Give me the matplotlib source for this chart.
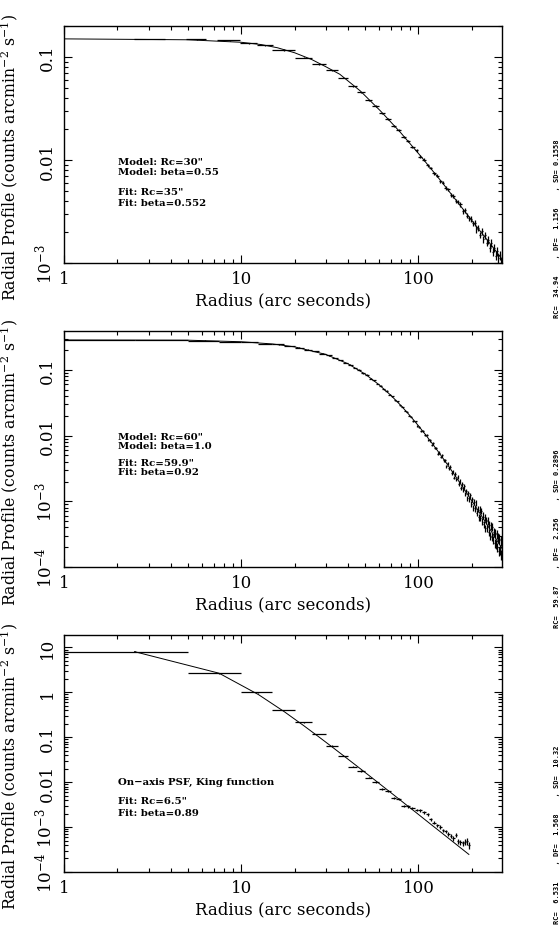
import matplotlib
matplotlib.use("Agg")
import matplotlib.pyplot as plt

plt.rcParams["font.family"] = "DejaVu Serif"
plt.rcParams["mathtext.fontset"] = "dejavuserif"

# ---- panel 1: model Rc=30", beta=0.55 ----
p1_r = [3.1, 5.6, 8.6, 11.1, 13.7,
        17.5, 22.5, 27.5, 32.5, 37.5, 42.5, 47.5, 52.5, 57.5, 62.5,
        67.5, 72.5, 77.5, 82.5, 87.5, 92.5, 97.5, 102.5, 107.5, 112.5,
        117.5, 122.5, 127.5, 132.5, 137.5, 142.5, 147.5, 152.5, 157.5, 162.5,
        167.5, 172.5, 177.5, 182.5, 187.5, 192.5, 197.5, 202.5, 207.5, 212.5,
        217.5, 222.5, 227.5, 232.5, 237.5, 242.5, 247.5, 252.5, 257.5, 262.5,
        267.5, 272.5, 277.5, 282.5, 287.5, 292.5, 297.5]
p1_hw = [0.62, 0.7, 1.3, 1.2, 1.4] + [2.5] * 57
p1_sb = [0.150, 0.149, 0.145, 0.136, 0.130,
         0.117, 0.0985, 0.0852, 0.0742, 0.0628, 0.0521, 0.0453, 0.0379, 0.0336, 0.0283,
         0.0252, 0.0216, 0.0195, 0.0168, 0.0154, 0.0134, 0.0124, 0.0108, 0.0101, 0.00892,
         0.00838, 0.00745, 0.00705, 0.00621, 0.00602, 0.00532, 0.00518, 0.00455, 0.00451, 0.00398,
         0.00392, 0.00372, 0.00318, 0.00327, 0.00289, 0.00271, 0.00268, 0.00242, 0.00245, 0.00212,
         0.00221, 0.00188, 0.00204, 0.00171, 0.00185, 0.00158, 0.00168, 0.00141, 0.00158, 0.00129,
         0.00141, 0.00118, 0.00131, 0.00112, 0.00119, 0.00101, 0.00110]
p1_relerr = [0.008, 0.008, 0.008, 0.008, 0.008,
             0.012, 0.012, 0.012, 0.013, 0.013, 0.014, 0.015, 0.018, 0.019, 0.02,
             0.021, 0.022, 0.023, 0.024, 0.025, 0.026, 0.027, 0.028, 0.03, 0.031,
             0.032, 0.034, 0.035, 0.037, 0.038, 0.04, 0.042, 0.044, 0.046, 0.048,
             0.05, 0.052, 0.054, 0.056, 0.058, 0.06, 0.062, 0.064, 0.066, 0.068,
             0.07, 0.072, 0.075, 0.078, 0.08, 0.082, 0.085, 0.088, 0.09, 0.092,
             0.095, 0.098, 0.1, 0.102, 0.105, 0.108, 0.11]
p1_model_r = [1, 5, 10, 13, 16, 20, 25, 30, 36, 47, 61, 79, 103, 133, 173, 224, 260, 300]
p1_model_sb = [0.150, 0.147, 0.139, 0.132, 0.123, 0.110, 0.0945, 0.0805, 0.0680, 0.0468,
               0.0300, 0.0186, 0.0109, 0.00635, 0.00357, 0.00202, 0.00146, 0.00106]

# ---- panel 2: model Rc=60", beta=1.0 ----
p2_r = [1.25, 3.75, 6.25, 8.75, 11.25, 13.75, 16.25, 18.75, 21.25, 23.75,
        26.25, 28.75, 31.25, 33.75, 36.25, 38.75, 41.25, 43.75, 46.25, 48.75,
        51.25, 53.75, 56.25, 58.75, 61.25, 63.75, 66.25, 68.75, 71.25, 73.75,
        76.25, 78.75, 81.25, 83.75, 86.25, 88.75, 91.25, 93.75, 96.25, 98.75,
        101.25, 103.75, 106.25, 108.75, 111.25, 113.75, 116.25, 118.75, 121.25, 123.75,
        126.25, 128.75, 131.25, 133.75, 136.25, 138.75, 141.25, 143.75, 146.25, 148.75,
        151.25, 153.75, 156.25, 158.75, 161.25, 163.75, 166.25, 168.75, 171.25, 173.75,
        176.25, 178.75, 181.25, 183.75, 186.25, 188.75, 191.25, 193.75, 196.25, 198.75,
        201.25, 203.75, 206.25, 208.75, 211.25, 213.75, 216.25, 218.75, 221.25, 223.75,
        226.25, 228.75, 231.25, 233.75, 236.25, 238.75, 241.25, 243.75, 246.25, 248.75,
        251.25, 253.75, 256.25, 258.75, 261.25, 263.75, 266.25, 268.75, 271.25, 273.75,
        276.25, 278.75, 281.25, 283.75, 286.25, 288.75, 291.25, 293.75, 296.25, 298.75]
p2_hw = [1.25] * 120
p2_sb = [0.285, 0.283, 0.279, 0.270, 0.265, 0.252, 0.244, 0.229, 0.219, 0.203,
         0.193, 0.176, 0.167, 0.151, 0.142, 0.127, 0.120, 0.107, 0.101, 0.0893,
         0.0838, 0.0738, 0.0695, 0.0610, 0.0578, 0.0505, 0.0478, 0.0418, 0.0397, 0.0346,
         0.0332, 0.0288, 0.0277, 0.0240, 0.0232, 0.0201, 0.0195, 0.0168, 0.0164, 0.0142,
         0.0136, 0.0119, 0.0119, 0.0103, 0.0102, 0.00853, 0.00845, 0.00723, 0.0076, 0.00644,
         0.00643, 0.00532, 0.0055, 0.00472, 0.0050, 0.0042, 0.0042, 0.00343, 0.00377, 0.00317,
         0.00337, 0.0027, 0.00284, 0.0023, 0.0026, 0.00216, 0.00238, 0.00185, 0.00202, 0.00158,
         0.00184, 0.00151, 0.0017, 0.00129, 0.00144, 0.00111, 0.00134, 0.00107, 0.00124, 0.00092,
         0.00107, 0.00079, 0.00099, 0.00076, 0.00094, 0.00066, 0.00077, 0.00057, 0.00075, 0.00056,
         0.00072, 0.00049, 0.00061, 0.00045, 0.00058, 0.00039, 0.00052, 0.00039, 0.00051, 0.00034,
         0.00044, 0.0003, 0.00042, 0.00029, 0.00041, 0.00026, 0.00034, 0.00023, 0.00033, 0.000225,
         0.00032, 0.0002, 0.00028, 0.000176, 0.00027, 0.000183, 0.000255, 0.000155, 0.000221, 0.000138]
p2_relerr = [0.005, 0.005, 0.006, 0.006, 0.007, 0.007, 0.008, 0.008, 0.009, 0.009,
             0.01, 0.01, 0.011, 0.011, 0.012, 0.012, 0.013, 0.013, 0.014, 0.014,
             0.015, 0.016, 0.017, 0.017, 0.018, 0.019, 0.02, 0.02, 0.021, 0.022,
             0.023, 0.024, 0.025, 0.026, 0.027, 0.028, 0.029, 0.03, 0.031, 0.032,
             0.033, 0.034, 0.035, 0.036, 0.037, 0.038, 0.039, 0.04, 0.041, 0.042,
             0.043, 0.044, 0.045, 0.046, 0.047, 0.048, 0.049, 0.05, 0.052, 0.054,
             0.056, 0.058, 0.06, 0.062, 0.064, 0.066, 0.068, 0.07, 0.072, 0.074,
             0.076, 0.078, 0.08, 0.082, 0.084, 0.086, 0.088, 0.09, 0.092, 0.094,
             0.096, 0.098, 0.1, 0.102, 0.104, 0.106, 0.108, 0.11, 0.112, 0.114,
             0.116, 0.118, 0.12, 0.122, 0.124, 0.126, 0.128, 0.13, 0.132, 0.134,
             0.136, 0.138, 0.14, 0.142, 0.144, 0.146, 0.148, 0.15, 0.152, 0.154,
             0.156, 0.158, 0.16, 0.162, 0.164, 0.166, 0.168, 0.17, 0.172, 0.174]
p2_model_r = [1, 5, 10, 15, 20, 30, 40, 50, 60, 70, 80, 90, 100, 110, 120, 130, 140, 150,
              160, 170, 180, 190, 200, 220, 240, 260, 280, 300]
p2_model_sb = [0.285, 0.283, 0.268, 0.248, 0.224, 0.172, 0.124, 0.0863, 0.0593, 0.0408,
               0.0283, 0.0198, 0.0141, 0.0102, 0.00749, 0.00559, 0.00422, 0.00324, 0.00251,
               0.00197, 0.00157, 0.00126, 0.00102, 0.000684, 0.000473, 0.000336, 0.000244,
               0.000181]

# ---- panel 3: on-axis PSF, King function ----
p3_r = [2.5, 7.5, 12.5, 17.5, 22.5, 27.5, 32.5, 37.5, 42.5, 47.5,
        52.5, 57.5, 62.5, 67.5, 72.5, 77.5, 82.5, 87.5, 92.5, 97.5,
        102.5, 107.5, 112.5, 117.5, 122.5, 127.5, 132.5, 137.5, 142.5, 147.5,
        152.5, 157.5, 162.5, 167.5, 172.5, 177.5, 182.5, 187.5, 192.5]
p3_hw = [2.5] * 39
p3_sb = [8.1, 2.64, 1.0, 0.40, 0.215, 0.118, 0.0654, 0.0392, 0.0223, 0.0178,
         0.0127, 0.0100, 0.0070, 0.0065, 0.0044, 0.0043, 0.0030, 0.0029, 0.00264, 0.00243,
         0.00235, 0.00212, 0.00195, 0.00150, 0.00125, 0.00110, 0.00100, 0.00085, 0.00080, 0.00070,
         0.00063, 0.00056, 0.00066, 0.00048, 0.00046, 0.00044, 0.00047, 0.00048, 0.00040]
p3_relerr = [0.005, 0.005, 0.008, 0.01, 0.012, 0.015, 0.02, 0.025, 0.03, 0.035,
             0.04, 0.045, 0.05, 0.05, 0.055, 0.055, 0.06, 0.06, 0.065, 0.065,
             0.07, 0.07, 0.075, 0.075, 0.08, 0.08, 0.085, 0.09, 0.095, 0.1,
             0.1, 0.11, 0.11, 0.12, 0.13, 0.14, 0.15, 0.16, 0.17]
p3_model_r = [2.5, 7.5, 12.5, 17.5, 22.5, 27.5, 32.5, 37.5, 42.5, 47.5, 57.5, 67.5, 77.5,
              87.5, 97.5, 117.5, 137.5, 157.5, 177.5, 192.5]
p3_model_sb = [8.07, 2.67, 0.894, 0.371, 0.182, 0.101, 0.0613, 0.0397, 0.0271, 0.0193,
               0.0107, 0.0065, 0.00423, 0.00289, 0.00207, 0.00115, 0.000706, 0.000461,
               0.000317, 0.000246]

notes = [
    ['Model: Rc=30"', "Model: beta=0.55", 'Fit: Rc=35"', "Fit: beta=0.552"],
    ['Model: Rc=60"', "Model: beta=1.0", 'Fit: Rc=59.9"', "Fit: beta=0.92"],
    ["On\u2212axis PSF, King function", 'Fit: Rc=6.5"', "Fit: beta=0.89"],
]
fit_info = [
    "RC=  34.94    , DF=  1.156    , SD= 0.1558",
    "RC=  59.87    , DF=  2.256    , SD= 0.2896",
    "RC=  6.531    , DF=  1.568    , SD=  10.32",
]
ytick_vals = [10, 1, 0.1, 0.01, 1e-3, 1e-4]
ytick_txt = ["10", "1", "0.1", "0.01", r"$10^{-3}$", r"$10^{-4}$"]

panels = [
    dict(r=p1_r, hw=p1_hw, sb=p1_sb, rel=p1_relerr, mr=p1_model_r, msb=p1_model_sb,
         ylim=(1e-3, 0.2), rect=[0.1143, 0.7155, 0.7821, 0.2554],
         note_y=[0.428, 0.388, 0.300, 0.257], info_y=0.657),
    dict(r=p2_r, hw=p2_hw, sb=p2_sb, rel=p2_relerr, mr=p2_model_r, msb=p2_model_sb,
         ylim=(1e-4, 0.39), rect=[0.1143, 0.3879, 0.7821, 0.2543],
         note_y=[0.555, 0.513, 0.441, 0.403], info_y=0.323),
    dict(r=p3_r, hw=p3_hw, sb=p3_sb, rel=p3_relerr, mr=p3_model_r, msb=p3_model_sb,
         ylim=(1e-4, 19), rect=[0.1143, 0.0593, 0.7821, 0.2554],
         note_y=[0.380, 0.300, 0.249], info_y=0.004),
]

fig = plt.figure(figsize=(5.6, 9.28), dpi=100)

for i, p in enumerate(panels):
    ax = fig.add_axes(p["rect"])
    ax.set_xscale("log")
    ax.set_yscale("log")
    yerr = [s * e for s, e in zip(p["sb"], p["rel"])]
    ax.errorbar(p["r"], p["sb"], xerr=p["hw"], yerr=yerr, fmt="none",
                ecolor="black", elinewidth=0.9, capsize=0)
    ax.plot(p["mr"], p["msb"], color="black", lw=0.7)

    ax.set_xlim(1, 296)
    ax.set_xticks([1, 10, 100], ["1", "10", "100"])
    lo, hi = p["ylim"]
    ticks = [(v, t) for v, t in zip(ytick_vals, ytick_txt) if lo <= v <= hi]
    ax.set_yticks([v for v, _ in ticks], [t for _, t in ticks])
    ax.set_ylim(*p["ylim"])
    ax.tick_params(which="both", direction="in", top=True, right=True, width=0.8)
    ax.tick_params(which="major", length=6, labelsize=12)
    ax.tick_params(which="minor", length=3)
    ax.tick_params(axis="y", which="major", labelrotation=90, pad=6)
    ax.tick_params(axis="x", which="major", pad=5)
    for lab in ax.get_yticklabels():
        lab.set_verticalalignment("center")
    for sp in ax.spines.values():
        sp.set_linewidth(1.0)

    ax.set_xlabel("Radius (arc seconds)", fontsize=12, labelpad=3)
    ax.set_ylabel(r"Radial Profile (counts arcmin$^{-2}$ s$^{-1}$)", fontsize=11.3)
    ax.yaxis.set_label_coords(-0.1, 0.45)

    for txt, ty in zip(notes[i], p["note_y"]):
        ax.text(0.123, ty, txt, transform=ax.transAxes, fontsize=7.3,
                fontweight="bold", ha="left", va="center")

    fig.text(0.994, p["info_y"], fit_info[i], rotation=90, fontsize=5,
             family="DejaVu Sans Mono", fontweight="bold", ha="center", va="bottom")

fig.savefig("out.png", dpi=100)
